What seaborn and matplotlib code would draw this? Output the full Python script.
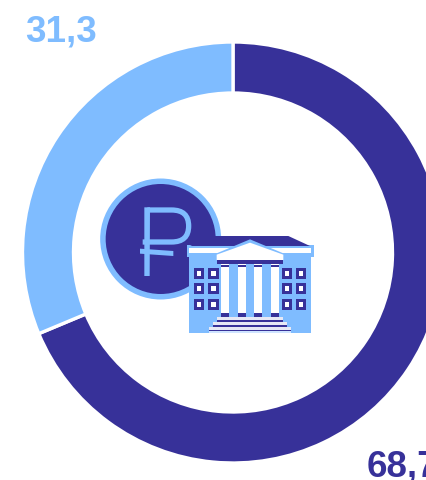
import matplotlib
matplotlib.use("Agg")
import matplotlib.pyplot as plt
from matplotlib.patches import Circle, Polygon, Rectangle, PathPatch
from matplotlib.path import Path
import seaborn as sns

# share values, clockwise from 12 o'clock
categories = ["dark", "light"]
shares = [68.7, 31.3]
share_labels = ["68,7", "31,3"]

DARK = "#373199"
LIGHT = "#7FBCFF"

sns.set_theme(style="white")
plt.rcParams["font.family"] = ["Liberation Sans", "DejaVu Sans"]

fig = plt.figure(figsize=(4.26, 4.8), dpi=100)
ax = fig.add_axes([0, 0, 1, 1])

# y axis is flipped below, so counterclock here reads clockwise on screen
ax.pie(shares, colors=[DARK, LIGHT], startangle=-90, counterclock=True,
       center=(233, 252.5), radius=210.5,
       wedgeprops=dict(width=51, edgecolor="white", linewidth=2.4))
ax.set_xlim(0, 426)
ax.set_ylim(480, 0)
ax.set_aspect("equal")
ax.axis("off")

ax.text(25, 41.5, share_labels[1], color=LIGHT, fontsize=26.5, fontweight="bold")
ax.text(367, 477, share_labels[0], color=DARK, fontsize=26.5, fontweight="bold", clip_on=True)


# icon was measured on a 3x crop starting at (90, 170)
def pt(zx, zy):
    return 90 + zx / 3, 170 + zy / 3


def box(x0, y0, x1, y1, color, z=3):
    x, y = pt(x0, y0)
    ax.add_patch(Rectangle((x, y), (x1 - x0) / 3, (y1 - y0) / 3, fc=color, ec="none", zorder=z))


def poly(points, color, z=3):
    ax.add_patch(Polygon([pt(*p) for p in points], closed=True, fc=color, ec="none", zorder=z))


# coin
ax.add_patch(Circle(pt(212, 207), 60.5, fc=LIGHT, ec="none", zorder=2))
ax.add_patch(Circle(pt(212, 207), 55, fc=DARK, ec="none", zorder=2))

# ruble sign
bowl = Path([pt(172, 120), pt(245, 120), pt(296, 120), pt(296, 168), pt(296, 216), pt(245, 216), pt(158, 216)],
            [Path.MOVETO, Path.LINETO, Path.CURVE3, Path.CURVE3, Path.CURVE3, Path.CURVE3, Path.LINETO])
ax.add_patch(PathPatch(bowl, fc="none", ec=LIGHT, lw=3.8, zorder=3, capstyle="butt"))
poly([(163, 112), (180, 112), (179, 318), (163, 318)], LIGHT)
poly([(150, 236), (250, 243), (250, 258), (150, 251)], LIGHT)

# building
box(298, 250, 662, 490, LIGHT)
poly([(300, 228), (362, 198), (595, 198), (660, 228)], DARK, 4)
box(290, 226, 671, 260, LIGHT, 3)
box(298, 235, 662, 250, "white", 4)
poly([(380, 250), (480, 208), (580, 250), (580, 270), (380, 270)], LIGHT, 4)
poly([(380, 254), (480, 218), (580, 254), (580, 270), (380, 270)], "white", 5)
box(380, 270, 580, 282, DARK, 5)

# portico
box(380, 282, 580, 440, LIGHT, 4)
for zx in [394, 444, 493, 542]:
    box(zx, 282, zx + 24, 440, "white", 5)
    box(zx, 284, zx + 24, 292, DARK, 5)
    box(zx, 430, zx + 24, 440, DARK, 5)

# steps
for x0, x1, y0 in [(380, 580, 440), (370, 590, 456), (358, 602, 470)]:
    box(x0, y0, x1, y0 + 10, "#E6E8F5", 5)
    box(x0, y0 + 9, x1, y0 + 15, DARK, 5)
box(358, 484, 602, 490, "#CFE4FF", 5)

# windows
for zx in [312, 355, 576, 618]:
    for zy in [293, 339, 386]:
        box(zx, zy, zx + 31, zy + 34, DARK, 5)
        box(zx + 9, zy + 9, zx + 22, zy + 25, "white", 6)

fig.savefig("out.png", dpi=100, facecolor="white")
